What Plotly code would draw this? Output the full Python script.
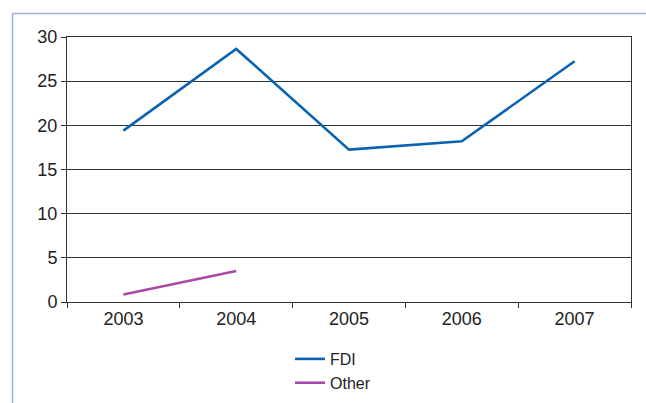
import plotly.graph_objects as go

years = ["2003", "2004", "2005", "2006", "2007"]
fdi = [19.4, 28.65, 17.25, 18.2, 27.25]
other_years = ["2003", "2004"]
other = [0.85, 3.5]
y_ticks = [0, 5, 10, 15, 20, 25, 30]

fig = go.Figure()
fig.add_trace(go.Scatter(x=years, y=fdi, mode="lines", name="FDI",
                         line=dict(color="#0b63b0", width=2.6)))
fig.add_trace(go.Scatter(x=other_years, y=other, mode="lines", name="Other",
                         line=dict(color="#a74aa6", width=2.6)))

W, H = 646, 403
L, R, T, B = 67, 15, 37, 101
PW, PH = W - L - R, H - T - B

def px_x(x):
    return (x - L) / PW

def px_y(y):
    return (H - y - B) / PH

fig.update_layout(
    width=W, height=H,
    margin=dict(l=L, r=R, t=T, b=B, autoexpand=False),
    paper_bgcolor="white", plot_bgcolor="white",
    font=dict(family="Liberation Sans, Arial, sans-serif", color="#222", size=18),
    showlegend=True,
    legend=dict(xref="container", yref="container", x=290 / W, y=1 - 342 / H,
                xanchor="left", yanchor="top", font=dict(size=16),
                tracegroupgap=0, itemwidth=30, bgcolor="rgba(0,0,0,0)"),
    xaxis=dict(type="category", categoryarray=years, tickson="boundaries",
               ticks="outside", ticklen=5, tickcolor="#333", showline=True,
               linecolor="#333", linewidth=1, mirror=True, showgrid=False,
               range=[-0.5, 4.5], tickfont=dict(size=18)),
    yaxis=dict(range=[0, 30], tickvals=y_ticks, ticks="outside", ticklen=5,
               tickcolor="#333", showline=True, linecolor="#333", linewidth=1,
               mirror=True, showgrid=True, gridcolor="#333", gridwidth=1,
               zeroline=False, tickfont=dict(size=18)),
)

# outer frame (left and top edges visible in reference)
x0 = px_x(12.5)
y0 = px_y(13.5)
x1 = px_x(646)
yb = px_y(403)
fig.add_shape(type="line", xref="paper", yref="paper", x0=x0, x1=x1, y0=y0, y1=y0,
              line=dict(color="#9ab0d6", width=1.5))
fig.add_shape(type="line", xref="paper", yref="paper", x0=x0, x1=x0, y0=y0, y1=yb,
              line=dict(color="#9ab0d6", width=1.5))

fig.write_html("out.html", config={"displayModeBar": False},
               post_script="document.body.style.margin='0';")
